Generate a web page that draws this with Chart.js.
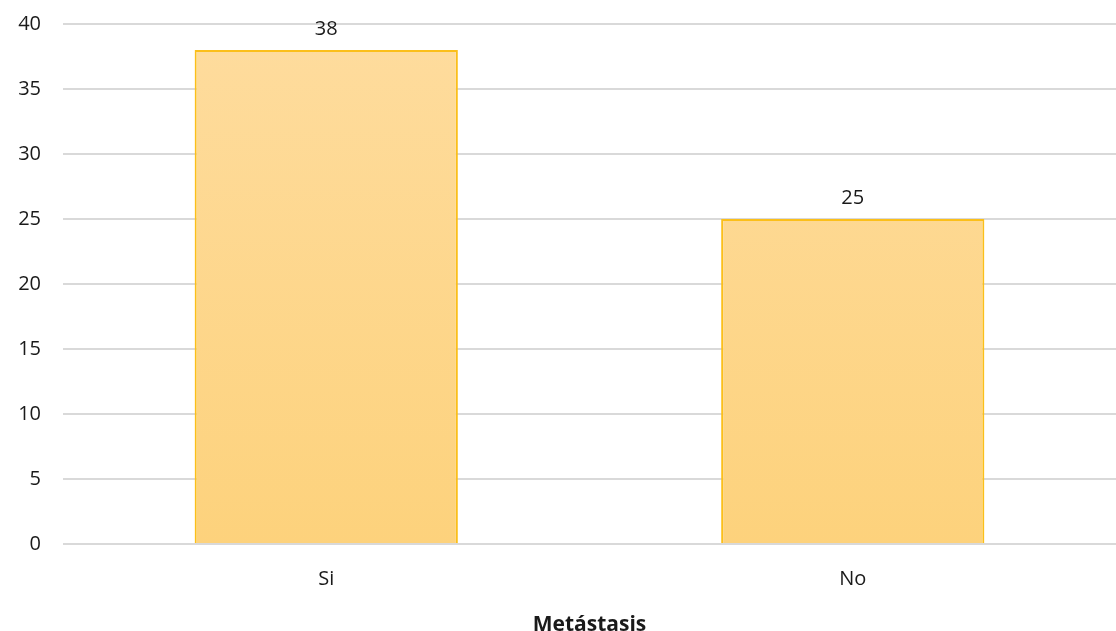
<!DOCTYPE html>
<html>
<head>
<meta charset="utf-8">
<script src="https://cdn.jsdelivr.net/npm/chart.js@4/dist/chart.umd.min.js"></script>
<style>
  html, body { margin: 0; padding: 0; background: #fff; }
  #wrap { width: 1116px; height: 631px; }
</style>
</head>
<body>
<div id="wrap"><canvas id="metChart" width="1116" height="631"></canvas></div>
<script>
// Metástasis counts
const categories = ['Si', 'No'];
const counts = [38, 25];
const yTicks = [0, 5, 10, 15, 20, 25, 30, 35, 40];

const FONT = '"Open Sans", "Liberation Sans", sans-serif';

// value label above each bar
const valueLabels = {
    id: 'valueLabels',
    afterDatasetsDraw(chart) {
        const ctx = chart.ctx;
        const meta = chart.getDatasetMeta(0);
        ctx.save();
        ctx.font = '20px ' + FONT;
        ctx.fillStyle = '#1a1a1a';
        ctx.textAlign = 'center';
        ctx.textBaseline = 'bottom';
        meta.data.forEach((bar, i) => {
            ctx.fillText(counts[i], bar.x, bar.y - 11);
        });
        ctx.restore();
    }
};

const ctx = document.getElementById('metChart').getContext('2d');

// soft vertical gradient for the bars
function barFill(context) {
    const area = context.chart.chartArea;
    if (!area) return '#fdd68a';
    const g = context.chart.ctx.createLinearGradient(0, area.top, 0, area.bottom);
    g.addColorStop(0, '#fedc9e');
    g.addColorStop(1, '#fdd27c');
    return g;
}

const metChart = new Chart(ctx, {
    type: 'bar',
    data: {
        labels: categories,
        datasets: [{
            data: counts,
            backgroundColor: barFill,
            borderColor: '#fbbf1a',
            borderWidth: 2,
            borderSkipped: 'bottom',
            categoryPercentage: 0.5,
            barPercentage: 1.0
        }]
    },
    options: {
        responsive: false,
        animation: false,
        layout: { padding: { top: 24, right: 0, left: 0, bottom: 0 } },
        plugins: {
            legend: { display: false },
            tooltip: { enabled: false }
        },
        scales: {
            x: {
                grid: { display: false },
                border: { display: false },
                ticks: { color: '#1a1a1a', font: { family: FONT, size: 20 }, padding: 15 },
                title: {
                    display: true,
                    text: 'Metástasis',
                    color: '#1a1a1a',
                    font: { family: FONT, size: 21, weight: 'bold' },
                    padding: { top: 21, bottom: -7 }
                },
                afterFit(axis) {
                    axis.height = 87;
                    axis.paddingLeft = 0;
                    axis.paddingRight = 0;
                }
            },
            y: {
                min: 0,
                max: 40,
                afterBuildTicks(axis) { axis.ticks = yTicks.map(v => ({ value: v })); },
                grid: { color: '#d9d9d9', lineWidth: 2, drawTicks: false },
                border: { display: false },
                ticks: { color: '#1a1a1a', font: { family: FONT, size: 20 }, padding: 22 },
                afterFit(axis) {
                    axis.width = 63;
                    axis.paddingTop = 0;
                    axis.paddingBottom = 0;
                }
            }
        }
    },
    plugins: [valueLabels]
});
</script>
</body>
</html>
